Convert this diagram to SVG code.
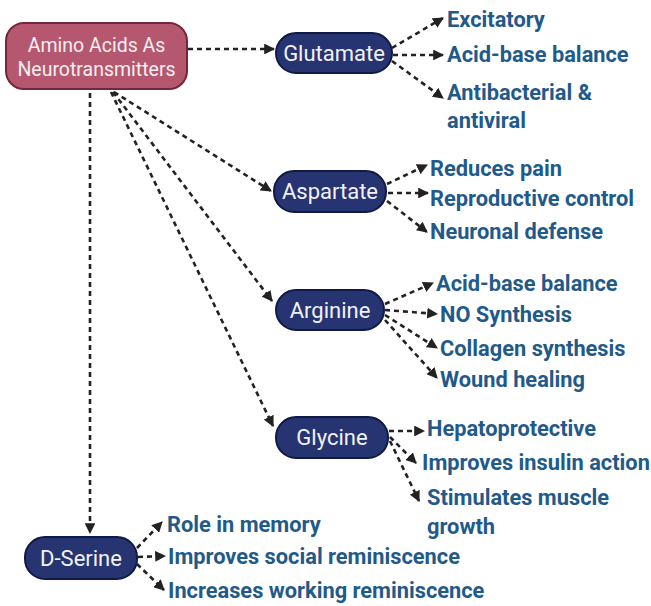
<svg xmlns="http://www.w3.org/2000/svg" width="651" height="606" viewBox="0 0 651 606">
<style>
.root{fill:#b65770;stroke:#74263b;stroke-width:2}
.node{fill:#263472;stroke:#111a44;stroke-width:2}
.nt{font-family:Roboto,"Liberation Sans",sans-serif;font-size:22px;fill:#f2f2f6;text-anchor:middle}
.rt{font-family:Roboto,"Liberation Sans",sans-serif;font-size:19.5px;fill:#f6eef0;text-anchor:middle}
.lb{font-family:Roboto,"Liberation Sans",sans-serif;font-size:21.8px;font-weight:bold;fill:#1f5a8a}
.c{fill:none;stroke:#222;stroke-width:2.6;stroke-dasharray:5 4;marker-end:url(#ah)}
</style>
<defs>
<marker id="ah" viewBox="0 0 10 10" refX="9" refY="5" markerWidth="4.2" markerHeight="4.2" orient="auto" markerUnits="strokeWidth">
<path d="M0,0 L10,5 L0,10 z" fill="#222"/>
</marker>
</defs>
<rect width="651" height="606" fill="#fff"/>
<g id="connectors">
<path class="c" d="M188,49 L274,49"/>
<path class="c" d="M114,92 L271,191"/>
<path class="c" d="M113,92 L272,301"/>
<path class="c" d="M111,92 L273,426"/>
<path class="c" d="M90,93 L90,533"/>
<path class="c" d="M392,48 L443,18"/>
<path class="c" d="M393,55 L443,55"/>
<path class="c" d="M392,61 L443,98"/>
<path class="c" d="M387,184 L427,165"/>
<path class="c" d="M388,193 L428,193"/>
<path class="c" d="M387,201 L427,232"/>
<path class="c" d="M385,304 L433,283"/>
<path class="c" d="M385,310 L437,314"/>
<path class="c" d="M385,315 L437,348"/>
<path class="c" d="M385,320 L437,378"/>
<path class="c" d="M389,431 L424,431"/>
<path class="c" d="M390,437 L416,463"/>
<path class="c" d="M390,441 L419,501"/>
<path class="c" d="M137,548 L162,522"/>
<path class="c" d="M138,557 L165,556"/>
<path class="c" d="M137,564 L164,590"/>
</g>
<g id="root">
<rect class="root" x="6" y="23" width="181" height="66" rx="18"/>
<text class="rt" x="96.5" y="52">Amino Acids As</text>
<text class="rt" x="96.5" y="76">Neurotransmitters</text>
</g>
<g id="glutamate">
<rect class="node" x="276" y="33" width="116" height="40" rx="20"/>
<text class="nt" x="334" y="60.5">Glutamate</text>
</g>
<g id="aspartate">
<rect class="node" x="274" y="171" width="112" height="41" rx="20"/>
<text class="nt" x="330" y="199">Aspartate</text>
</g>
<g id="arginine">
<rect class="node" x="276" y="290" width="108" height="40" rx="20"/>
<text class="nt" x="330" y="317.5">Arginine</text>
</g>
<g id="glycine">
<rect class="node" x="276" y="417" width="112" height="41" rx="20"/>
<text class="nt" x="332" y="445">Glycine</text>
</g>
<g id="dserine">
<rect class="node" x="25" y="537" width="112" height="42" rx="20"/>
<text class="nt" x="81" y="565.5">D-Serine</text>
</g>
<g id="glutamate-effects">
<text class="lb" x="447" y="27">Excitatory</text>
<text class="lb" x="447" y="62">Acid-base balance</text>
<text class="lb" x="447" y="100">Antibacterial &amp;</text>
<text class="lb" x="447" y="128">antiviral</text>
</g>
<g id="aspartate-effects">
<text class="lb" x="430" y="176">Reduces pain</text>
<text class="lb" x="430" y="206">Reproductive control</text>
<text class="lb" x="430" y="239">Neuronal defense</text>
</g>
<g id="arginine-effects">
<text class="lb" x="436" y="291">Acid-base balance</text>
<text class="lb" x="440" y="322">NO Synthesis</text>
<text class="lb" x="440" y="356">Collagen synthesis</text>
<text class="lb" x="440" y="387">Wound healing</text>
</g>
<g id="glycine-effects">
<text class="lb" x="427" y="436">Hepatoprotective</text>
<text class="lb" x="422" y="470">Improves insulin action</text>
<text class="lb" x="427" y="505">Stimulates muscle</text>
<text class="lb" x="427" y="534">growth</text>
</g>
<g id="dserine-effects">
<text class="lb" x="167" y="532">Role in memory</text>
<text class="lb" x="168" y="564">Improves social reminiscence</text>
<text class="lb" x="168" y="598">Increases working reminiscence</text>
</g>
</svg>
